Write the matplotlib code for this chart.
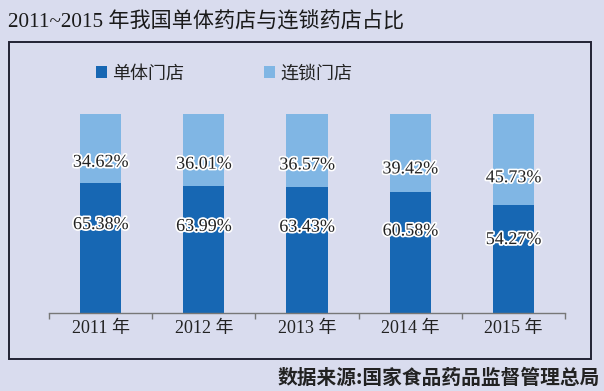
import matplotlib
matplotlib.use("Agg")
import matplotlib.pyplot as plt
import matplotlib.patheffects as pe
from matplotlib.patches import Rectangle
import numpy as np

years = ["2011 年", "2012 年", "2013 年", "2014 年", "2015 年"]
single = [65.38, 63.99, 63.43, 60.58, 54.27]
chain = [34.62, 36.01, 36.57, 39.42, 45.73]
series_names = ["单体门店", "连锁门店"]
title = "2011~2015 年我国单体药店与连锁药店占比"
source = "数据来源:国家食品药品监督管理总局"

bg = "#d9dcee"
dark = "#1767b3"
light = "#80b6e4"
serif_cjk = ["Liberation Serif", "Noto Sans CJK SC"]

fig = plt.figure(figsize=(6.04, 3.91), dpi=100, facecolor=bg)

# frame
fig.patches.append(Rectangle((9 / 604, 1 - 359 / 391), 582 / 604, 317 / 391,
                             transform=fig.transFigure, fill=False,
                             edgecolor="#222233", linewidth=1.4))

ax = fig.add_axes([49 / 604, (391 - 313) / 391, 516 / 604, 199 / 391])
ax.set_facecolor(bg)
x = np.arange(len(years))
w = 0.4
ax.bar(x, single, width=w, color=dark, label=series_names[0])
ax.bar(x, chain, width=w, bottom=single, color=light, label=series_names[1])

stroke = [pe.withStroke(linewidth=2.5, foreground="white")]
for i in range(len(years)):
    ax.text(x[i], single[i] + chain[i] * 0.3, f"{chain[i]:.2f}%", ha="center", va="center",
            fontsize=13, family="Liberation Serif", color="#222222", path_effects=stroke)
    ax.text(x[i], single[i] * 0.68, f"{single[i]:.2f}%", ha="center", va="center",
            fontsize=13, family="Liberation Serif", color="#222222", path_effects=stroke)

ax.set_xlim(-0.5, len(years) - 0.5)
ax.set_ylim(0, 100)
for s in ["top", "right", "left"]:
    ax.spines[s].set_visible(False)
ax.spines["bottom"].set_color("#777777")
ax.spines["bottom"].set_linewidth(1.0)
ax.set_yticks([])
ax.set_xticks(x)
ax.set_xticklabels(years, family=serif_cjk, fontsize=13, color="#222222")
ax.set_xticks(np.arange(-0.5, len(years), 1.0), minor=True)
ax.tick_params(axis="x", which="major", length=0, pad=5)
ax.tick_params(axis="x", which="minor", length=4, color="#777777", width=1.0, direction="out")

leg = ax.legend(loc="upper left", bbox_to_anchor=(0.06, 1.33), ncol=2, frameon=False,
                prop={"family": "Noto Sans CJK SC", "size": 13}, handlelength=0.6,
                handleheight=0.6, handletextpad=0.3, columnspacing=4.4)
for t in leg.get_texts():
    t.set_color("#222222")

fig.text(8 / 604, 1 - 22 / 391, title, ha="left", va="center", fontsize=15.2,
         family=serif_cjk, color="#1a1a1a")
fig.text(600 / 604, 1 - 378 / 391, source, ha="right", va="center", fontsize=14.2,
         family="Noto Sans CJK SC", fontweight="bold", color="#222222")

fig.savefig("out.png", dpi=100, facecolor=bg)
